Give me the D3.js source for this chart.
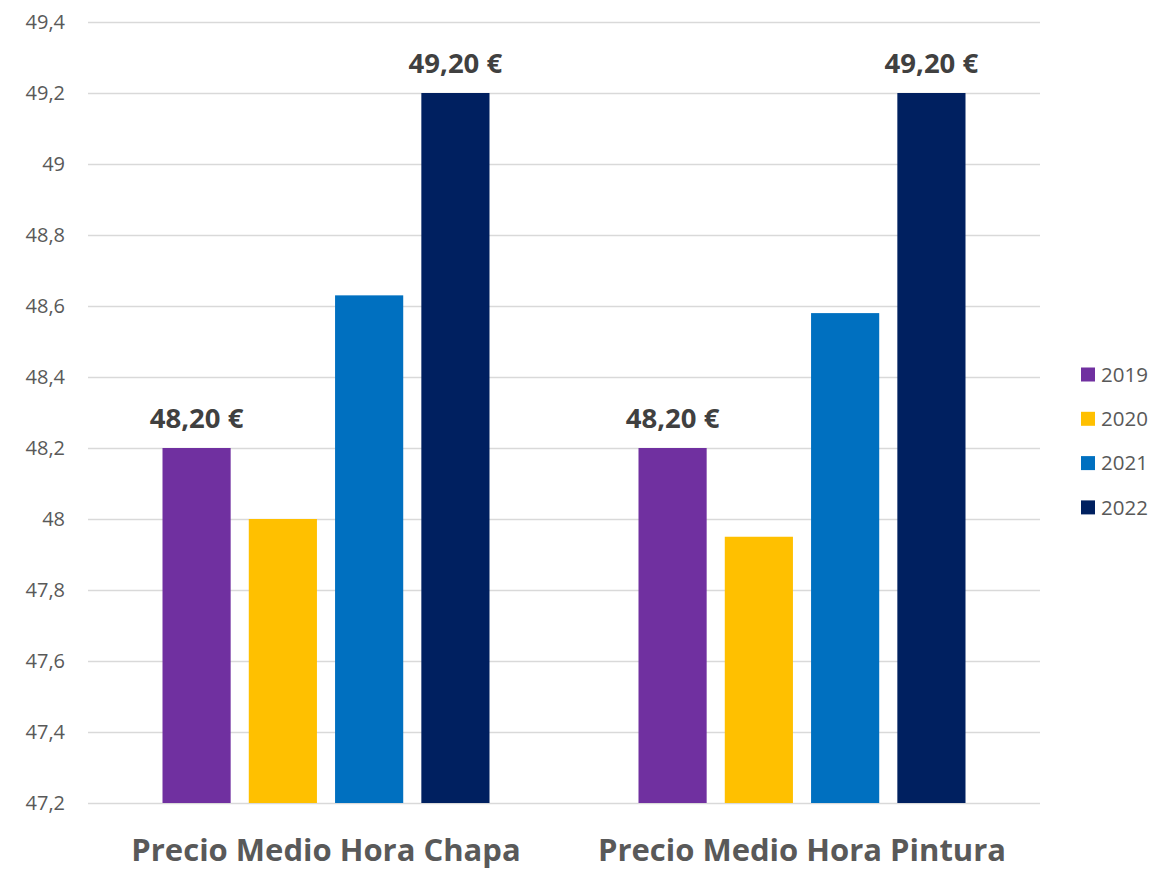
<!DOCTYPE html>
<html>
<head>
<meta charset="utf-8">
<title>Precio Medio Hora</title>
<style>
  body { margin: 0; background: #fff; }
  text { font-family: "Open Sans", "Noto Sans", sans-serif; }
</style>
</head>
<body>
<svg width="1155" height="869"></svg>
<script src="https://d3js.org/d3.v7.min.js"></script>
<script>

var categories = ["Precio Medio Hora Chapa", "Precio Medio Hora Pintura"];
var years = ["2019", "2020", "2021", "2022"];
var values = {
  "2019": [48.20, 48.20],
  "2020": [48.00, 47.95],
  "2021": [48.63, 48.58],
  "2022": [49.20, 49.20]
};
var labelledYears = ["2019", "2022"];
var yTicks = [47.2, 47.4, 47.6, 47.8, 48, 48.2, 48.4, 48.6, 48.8, 49, 49.2, 49.4];
var colors = ["#7030A0", "#FFC000", "#0070C0", "#002060"];

var svg = d3.select("svg");
var margin = {left: 88, right: 115, top: 22, bottom: 66};
var width = 1155 - margin.left - margin.right,
    height = 869 - margin.top - margin.bottom;

var g = svg.append("g")
    .attr("transform", "translate(" + margin.left + "," + margin.top + ")");

var y = d3.scaleLinear()
    .domain([47.2, 49.4])
    .range([height, 0]);

var x0 = d3.scaleBand()
    .domain(categories)
    .range([0, width])
    .paddingInner(0)
    .paddingOuter(0);

var x1 = d3.scaleBand()
    .domain(years)
    .range([74.5, x0.bandwidth() - 74.5])
    .paddingInner(0.21)
    .paddingOuter(0);

var color = d3.scaleOrdinal().domain(years).range(colors);

var fmt = function(v) { return String(v).replace(".", ","); };

// gridlines
g.append("g")
  .selectAll("line")
  .data(yTicks)
  .enter().append("line")
    .attr("x1", 0)
    .attr("x2", width)
    .attr("y1", function(d) { return Math.round(y(d)) + 0.5; })
    .attr("y2", function(d) { return Math.round(y(d)) + 0.5; })
    .attr("stroke", "#D9D9D9")
    .attr("stroke-width", 1.5);

// y axis labels
var yAxis = g.append("g")
    .call(d3.axisLeft(y).tickValues(yTicks).tickSize(0).tickPadding(23)
      .tickFormat(function(d) { return fmt(+d.toFixed(1)); }));
yAxis.select(".domain").remove();
yAxis.selectAll("text")
    .attr("fill", "#595959")
    .attr("font-size", 20)
    .style("font-family", "'Open Sans', sans-serif");

// bars
var groups = g.selectAll(".grp")
  .data(categories)
  .enter().append("g")
    .attr("class", "grp")
    .attr("transform", function(d) { return "translate(" + x0(d) + ",0)"; });

groups.selectAll("rect")
  .data(function(c, i) { return years.map(function(yr) { return {year: yr, value: values[yr][i]}; }); })
  .enter().append("rect")
    .attr("x", function(d) { return x1(d.year); })
    .attr("width", x1.bandwidth())
    .attr("y", function(d) { return y(d.value); })
    .attr("height", function(d) { return height - y(d.value); })
    .attr("fill", function(d) { return color(d.year); });

groups.selectAll(".lbl")
  .data(function(c, i) {
    return labelledYears.map(function(yr) { return {year: yr, value: values[yr][i]}; });
  })
  .enter().append("text")
    .attr("class", "lbl")
    .attr("x", function(d) { return x1(d.year) + x1.bandwidth() / 2; })
    .attr("y", function(d) { return y(d.value) - 20; })
    .attr("text-anchor", "middle")
    .attr("font-size", 27.5)
    .attr("font-weight", "bold")
    .attr("fill", "#404040")
    .text(function(d) { return d.value.toFixed(2).replace(".", ",") + " €"; });

// category labels
g.selectAll(".cat")
  .data(categories)
  .enter().append("text")
    .attr("class", "cat")
    .attr("x", function(d) { return x0(d) + x0.bandwidth() / 2; })
    .attr("y", height + 58)
    .attr("text-anchor", "middle")
    .attr("font-size", 31)
    .attr("font-weight", "bold")
    .attr("fill", "#595959")
    .text(function(d) { return d; });

// legend
var legend = svg.append("g")
    .attr("transform", "translate(1081,374.5)");

var item = legend.selectAll("g")
  .data(years)
  .enter().append("g")
    .attr("transform", function(d, i) { return "translate(0," + (i * 44.3) + ")"; });

item.append("rect")
    .attr("x", 0)
    .attr("y", -7)
    .attr("width", 14)
    .attr("height", 14)
    .attr("fill", function(d) { return color(d); });

item.append("text")
    .attr("x", 20)
    .attr("y", 0)
    .attr("dy", "0.35em")
    .attr("font-size", 20.5)
    .attr("fill", "#595959")
    .text(function(d) { return d; });

</script>
</body>
</html>
